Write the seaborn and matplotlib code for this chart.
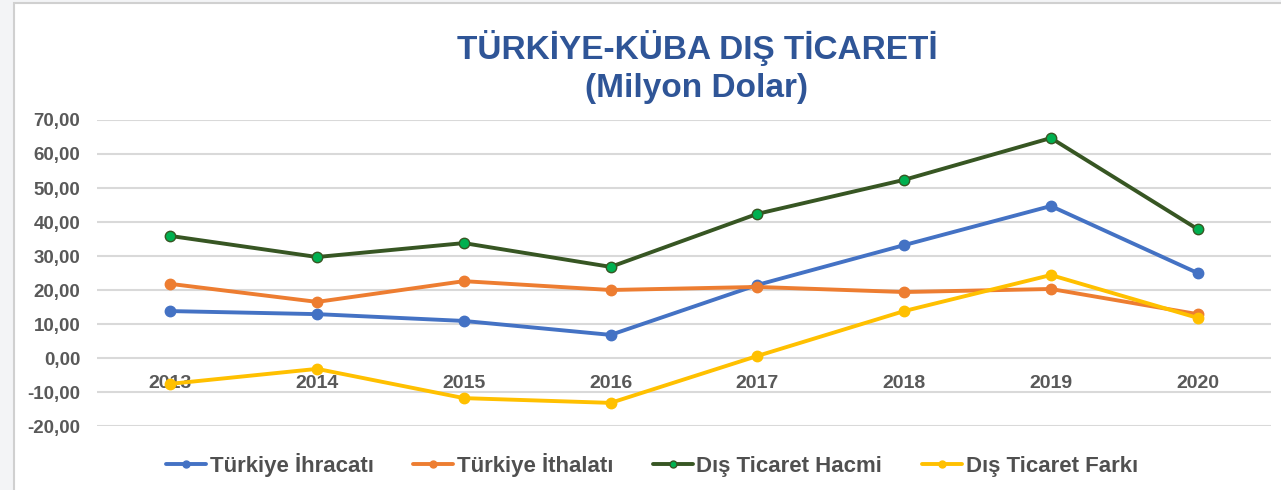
import matplotlib
matplotlib.use("Agg")
import matplotlib.pyplot as plt
from matplotlib.patches import Rectangle
import seaborn as sns
import pandas as pd

years = ["2013", "2014", "2015", "2016", "2017", "2018", "2019", "2020"]
ihracat = [13.8, 12.9, 10.9, 6.8, 21.5, 33.2, 44.7, 25.0]
ithalat = [21.8, 16.5, 22.6, 20.0, 20.9, 19.4, 20.3, 12.9]
hacim = [35.9, 29.7, 33.8, 26.8, 42.4, 52.4, 64.7, 37.9]
fark = [-7.6, -3.2, -11.8, -13.2, 0.6, 13.8, 24.4, 11.8]
series_names = ["Türkiye İhracatı", "Türkiye İthalatı", "Dış Ticaret Hacmi", "Dış Ticaret Farkı"]
y_ticks = [-20, -10, 0, 10, 20, 30, 40, 50, 60, 70]

sns.set_theme(style="white")
plt.rcParams['font.family'] = ['Liberation Sans', 'DejaVu Sans']

fig = plt.figure(figsize=(12.81, 4.9), dpi=100)
fig.patch.set_facecolor("#f3f4f6")
frame = Rectangle((14/1281, -0.1), 1.2, 1.1 - 3/490, transform=fig.transFigure,
                  facecolor="white", edgecolor="#d0d0d0", linewidth=1.5, zorder=-10)
fig.add_artist(frame)

ax = fig.add_axes([97/1281, 1 - 426/490, (1271 - 97)/1281, (426 - 120)/490])
ax.set_zorder(5)
ax.set_facecolor("none")

df = pd.DataFrame({"x": list(range(len(years)))})
styles = [
    (ihracat, "#4472c4", "#4472c4", "#4472c4"),
    (ithalat, "#ed7d31", "#ed7d31", "#ed7d31"),
    (hacim, "#375623", "#00b050", "#375623"),
    (fark, "#ffc000", "#ffc000", "#ffc000"),
]
for name, (vals, lc, mfc, mec) in zip(series_names, styles):
    d = df.copy()
    d["y"] = vals
    sns.lineplot(data=d, x="x", y="y", ax=ax, color=lc, linewidth=2.8, marker="o",
                 markersize=7.5, markerfacecolor=mfc, markeredgecolor=mec, markeredgewidth=1.0,
                 label=name, legend=False, zorder=3)

ax.spines['bottom'].set_position(('data', 0))
for s in ax.spines.values():
    s.set_visible(False)
ax.set_xlim(-0.5, len(years) - 0.5)
ax.set_ylim(-20, 70)
ax.set_yticks(y_ticks)
ax.set_yticklabels([f"{v:.2f}".replace(".", ",") for v in y_ticks],
                   fontsize=13.5, fontweight="bold", color="#595959")
ax.set_xticks(range(len(years)))
ax.set_xticklabels(years, fontsize=14, fontweight="bold", color="#595959")
ax.tick_params(axis="both", length=0)
ax.tick_params(axis="y", pad=12)
ax.tick_params(axis="x", pad=12)
ax.grid(axis="y", color="#d9d9d9", linewidth=1.5)
ax.grid(axis="x", visible=False)
ax.set_axisbelow(True)
ax.set_xlabel("")
ax.set_ylabel("")

fig.text(0.544, 1 - 48/490, "TÜRKİYE-KÜBA DIŞ TİCARETİ", ha="center", va="center",
         fontsize=24, fontweight="bold", color="#2f5597")
fig.text(0.544, 1 - 88/490, "(Milyon Dolar)", ha="center", va="center",
         fontsize=24, fontweight="bold", color="#2f5597")

handles, labels = ax.get_legend_handles_labels()
leg = fig.legend(handles, labels, loc="center", bbox_to_anchor=(0.509, 1 - 465/490), ncol=4,
                 frameon=False, fontsize=16, columnspacing=1.8, handlelength=1.8,
                 handletextpad=0.15)
for t in leg.get_texts():
    t.set_color("#505050")
    t.set_fontweight("bold")
for h in leg.legend_handles:
    h.set_markersize(5)

fig.savefig("out.png", dpi=100, facecolor=fig.get_facecolor())
